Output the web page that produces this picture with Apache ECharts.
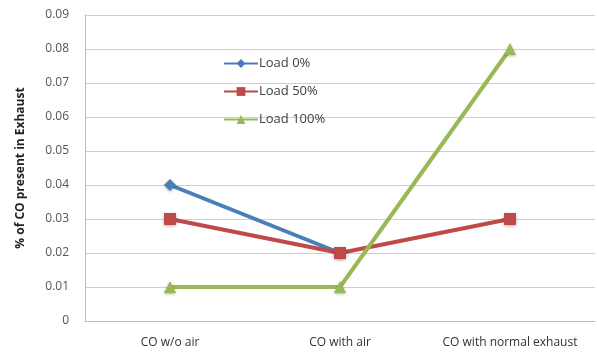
<!DOCTYPE html>
<html>
<head>
<meta charset="utf-8">
<script src="https://cdn.jsdelivr.net/npm/echarts@6/dist/echarts.min.js"></script>
<style>
  html, body { margin: 0; padding: 0; background: #fff; }
  #main { width: 597px; height: 354px; }
</style>
</head>
<body>
<div id="main"></div>
<script>
// categories and values
const categories = ['CO w/o air', 'CO with air', 'CO with normal exhaust'];
const load0 = [0.04, 0.02, null];
const load50 = [0.03, 0.02, 0.03];
const load100 = [0.01, 0.01, 0.08];
const yTicks = { min: 0, max: 0.09, interval: 0.01 };

let myChart = echarts.init(document.getElementById('main'));

function lineSeries(name, data, color, symbol, size) {
    return {
        name,
        type: 'line',
        data,
        symbol,
        symbolSize: size,
        connectNulls: false,
        lineStyle: { width: 4, color },
        itemStyle: { color, shadowBlur: 3, shadowColor: 'rgba(0,0,0,0.3)', shadowOffsetY: 1 }
    };
}

myChart.setOption({
    animation: false,
    backgroundColor: '#fff',
    textStyle: { fontFamily: 'Open Sans, DejaVu Sans, sans-serif' },
    grid: { left: 85, right: 2, top: 15, bottom: 33 },
    legend: {
        orient: 'vertical',
        left: 218,
        top: 52,
        itemWidth: 34,
        itemHeight: 11,
        itemGap: 15,
        textStyle: { fontSize: 13, color: '#404040', padding: [0, 0, 0, -4] },
        data: ['Load 0%', 'Load 50%', 'Load 100%']
    },
    xAxis: {
        type: 'category',
        data: categories,
        boundaryGap: true,
        axisLine: { lineStyle: { color: '#bdbdbd', width: 1 } },
        axisTick: { show: false },
        axisLabel: { color: '#333', fontSize: 12, margin: 16, interval: 0 }
    },
    yAxis: {
        type: 'value',
        min: yTicks.min,
        max: yTicks.max,
        interval: yTicks.interval,
        name: '% of CO present in Exhaust',
        nameLocation: 'middle',
        nameGap: 58,
        nameTextStyle: { fontSize: 12, color: '#222', fontWeight: 'bold' },
        axisLine: { show: true, lineStyle: { color: '#bdbdbd' } },
        axisTick: { show: false },
        axisLabel: {
            color: '#555',
            fontSize: 12,
            margin: 16,
            formatter: v => String(Math.round(v * 100) / 100)
        },
        splitLine: { lineStyle: { color: '#cfcfcf', width: 1 } }
    },
    series: [
        lineSeries('Load 0%', load0, '#4a7ebb', 'diamond', 12),
        lineSeries('Load 50%', load50, '#be4b48', 'rect', 12),
        lineSeries('Load 100%', load100, '#98b954', 'triangle', 12)
    ]
});
</script>
</body>
</html>
